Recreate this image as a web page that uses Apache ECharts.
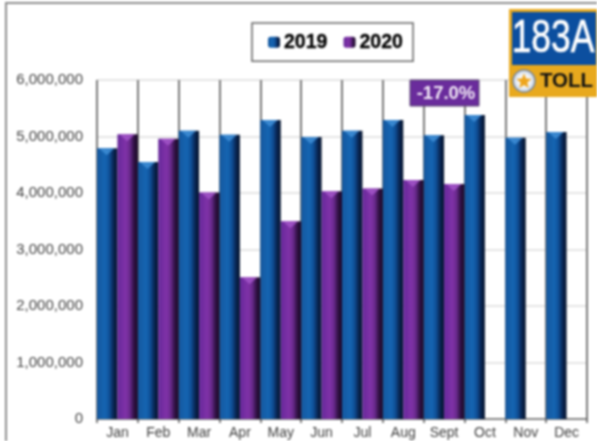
<!DOCTYPE html>
<html>
<head>
<meta charset="utf-8">
<style>
html,body{margin:0;padding:0;background:#fff;overflow:hidden}
#c{width:597px;height:441px;filter:blur(0.8px)}
</style>
<script src="https://cdn.jsdelivr.net/npm/echarts@6/dist/echarts.min.js"></script>
</head>
<body>
<div id="c"></div>
<script>
const months = ['Jan','Feb','Mar','Apr','May','Jun','Jul','Aug','Sept','Oct','Nov','Dec'];
const values2019 = [4790000,4550000,5100000,5030000,5290000,4990000,5100000,5290000,5020000,5380000,4980000,5080000];
const values2020 = [5040000,4960000,4010000,2510000,3500000,4030000,4080000,4230000,4160000,null,null,null];
const yTicks = {min:0,max:6000000,interval:1000000};
const callout = '-17.0%';

const chart = echarts.init(document.getElementById('c'),null,{renderer:'canvas'});
const grad = (stops)=>new echarts.graphic.LinearGradient(0,0,1,0,stops.map((c)=>({offset:c[0],color:c[1]})));
const blueFill = grad([[0,'#15589f'],[0.4,'#1565b2'],[0.6,'#0f5098'],[0.8,'#092654'],[1,'#04122a']]);
const purpleFill = grad([[0,'#66289a'],[0.4,'#8032a8'],[0.6,'#6a2a8e'],[0.8,'#321246'],[1,'#180724']]);

function capRenderer(side, light){
  return function(params, api){
    const p = api.coord([api.value(0), api.value(1)]);
    const w = api.size([1,0])[0]/2;
    const l = side===0 ? p[0]-w : p[0];
    const r = l+w;
    const t = p[1];
    return {type:'polygon',shape:{points:[[l+2,t],[r-3,t],[(l+r)/2-0.5,t+7]]},style:{fill:light,opacity:0.85},silent:true};
  };
}

chart.setOption({
  animation:false,
  backgroundColor:'#fff',
  grid:{left:97,right:10,top:80,bottom:22},
  legend:{
    data:['2019','2020'],
    left:252,top:23,
    orient:'horizontal',
    padding:[9,10,9,16],
    itemWidth:12,itemHeight:11,itemGap:16,
    borderColor:'#666',borderWidth:1.5,backgroundColor:'#fff',
    textStyle:{fontFamily:'Liberation Sans',fontWeight:'bold',fontSize:19.5,color:'#000',textBorderColor:'#000',textBorderWidth:0.3,padding:[0,0,0,-1]},
    selectedMode:false
  },
  xAxis:{
    type:'category',data:months,boundaryGap:true,
    axisLine:{lineStyle:{color:'#666',width:1.5}},
    axisTick:{show:true,alignWithLabel:false,length:4,lineStyle:{color:'#555',width:1.5}},
    axisLabel:{fontFamily:'Liberation Sans',fontSize:14,color:'#3d3d3d',margin:7,interval:0},
    splitLine:{show:true,interval:0,lineStyle:{color:'#7a7a7a',width:2}}
  },
  yAxis:{
    type:'value',min:yTicks.min,max:yTicks.max,interval:yTicks.interval,
    axisLine:{show:false},axisTick:{show:false},
    axisLabel:{fontFamily:'Liberation Sans',fontSize:15,color:'#444',margin:14,
      formatter:v=>v.toLocaleString('en-US')},
    splitLine:{show:true,lineStyle:{color:'#dcdcdc',width:1.5}}
  },
  series:[
    {name:'2019',type:'bar',data:values2019,barGap:0,barCategoryGap:0,itemStyle:{color:blueFill}},
    {name:'2020',type:'bar',data:values2020,barGap:0,barCategoryGap:0,itemStyle:{color:purpleFill}},
    {name:'cap2019',type:'custom',renderItem:capRenderer(0,'#3f8ed6'),encode:{x:0,y:1},silent:true,z:3,
     data:values2019.map((v,i)=>[i,v])},
    {name:'cap2020',type:'custom',renderItem:capRenderer(1,'#a255c8'),encode:{x:0,y:1},silent:true,z:3,
     data:values2020.map((v,i)=>[i,v]).filter(d=>d[1]!==null)}
  ],
  graphic:[
    {type:'rect',z:1,silent:true,shape:{x:6,y:3,width:700,height:600},style:{fill:'none',stroke:'#8e8e8e',lineWidth:2}},
    {type:'rect',z:50,shape:{x:410,y:80,width:69,height:26},style:{fill:'#6a2c9c',stroke:'#5a4a70',lineWidth:1}},
    {type:'text',z:51,style:{text:callout,x:446,y:93.5,align:'center',verticalAlign:'middle',fontFamily:'Liberation Sans',fontWeight:'bold',fontSize:18.5,fill:'#f2eaf6'}},
    {type:'rect',z:50,shape:{x:509,y:9,width:92,height:88},style:{fill:'#e8a91e'}},
    {type:'rect',z:51,shape:{x:512,y:12,width:84,height:53},style:{fill:'#0c4f9f'}},
    {type:'text',z:52,x:553,y:39,scaleX:0.77,style:{text:'183A',x:0,y:0,align:'center',verticalAlign:'middle',fontFamily:'Liberation Sans',fontSize:46,fontWeight:'normal',fill:'#fff',stroke:'#fff',lineWidth:0.6}},
    {type:'circle',z:52,shape:{cx:524,cy:81,r:11},style:{fill:'#d8e2ee',stroke:'#7b8796',lineWidth:1.5}},
    {type:'circle',z:52,shape:{cx:524,cy:81,r:7.5},style:{fill:'#f4f4f4'}},
    {type:'polygon',z:53,shape:{points:[[524,73.5],[526,78.5],[531.5,79],[527.3,82.5],[528.7,88],[524,85],[519.3,88],[520.7,82.5],[516.5,79],[522,78.5]]},style:{fill:'#eea51c'}},
    {type:'text',z:52,style:{text:'TOLL',x:566.5,y:81,align:'center',verticalAlign:'middle',fontFamily:'Liberation Sans',fontWeight:'bold',fontSize:20.5,fill:'#111'}}
  ]
});
</script>
</body>
</html>
